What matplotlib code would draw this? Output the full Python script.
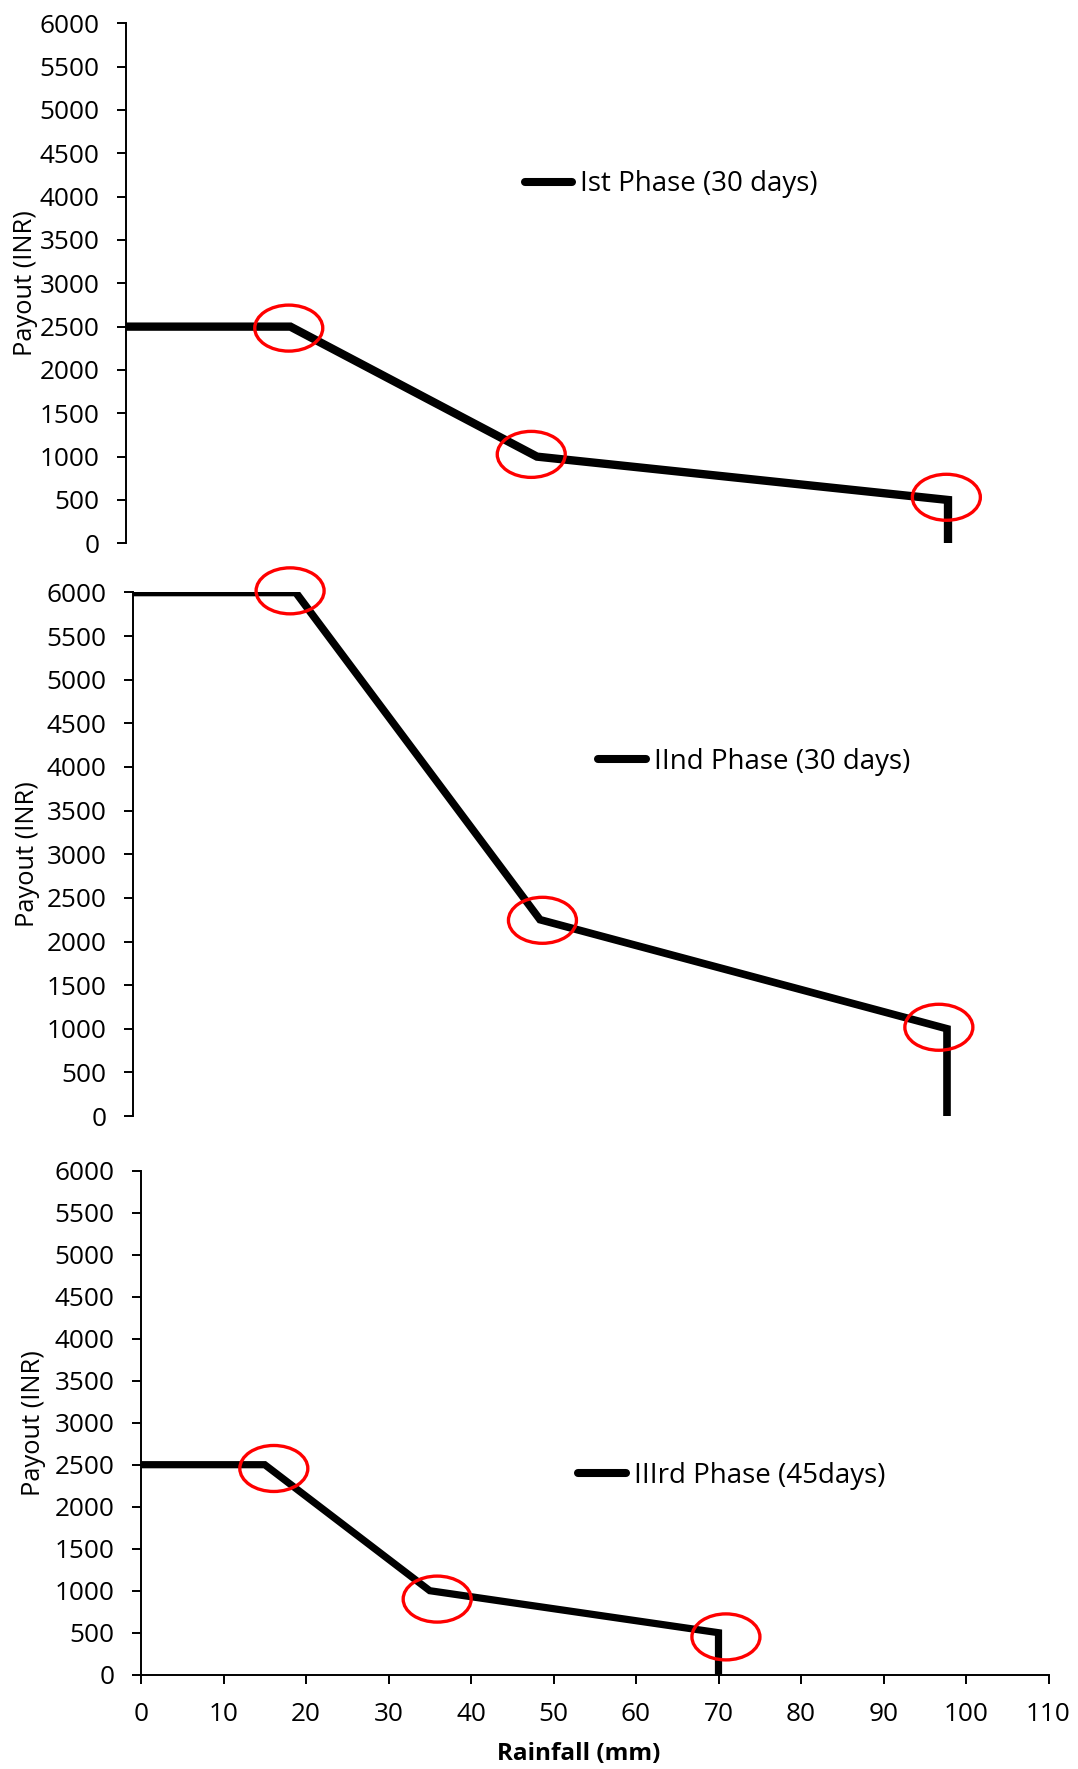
import matplotlib
matplotlib.use('Agg')
import matplotlib.pyplot as plt
from matplotlib.patches import Ellipse
from matplotlib.lines import Line2D
from matplotlib.transforms import ScaledTranslation

W, H, DPI = 1078, 1769, 100
plt.rcParams['font.family'] = ['Open Sans', 'DejaVu Sans']

# ---------------- data ----------------
phase1_rain = [0, 20, 50, 100, 100]
phase1_payout = [2500, 2500, 1000, 500, 0]
phase2_rain = [0, 20, 50, 100, 100]
phase2_payout = [6000, 6000, 2250, 1000, 0]
phase3_rain = [0, 15, 35, 70, 70]
phase3_payout = [2500, 2500, 1000, 500, 0]

phase_labels = ['Ist Phase (30 days)', 'IInd Phase (30 days)', 'IIIrd Phase (45days)']

# highlighted break points (red ellipses)
phase1_mark_x = [19.8, 49.3, 99.8]
phase1_mark_y = [2483, 1026, 531]
phase2_mark_x = [19.3, 50.3, 99.0]
phase2_mark_y = [6019, 2243, 1017]
phase3_mark_x = [16.1, 35.9, 70.9]
phase3_mark_y = [2455, 900, 450]

y_ticks = list(range(0, 6001, 500))
x_ticks = list(range(0, 111, 10))
y_label = 'Payout (INR)'
x_label = 'Rainfall (mm)'

# ---------------- layout (pixels) ----------------
panels = [
    dict(left=126, right=126 + 110 * 8.22, top=23.3, bottom=543.3,
         rain=phase1_rain, pay=phase1_payout, mx=phase1_mark_x, my=phase1_mark_y,
         lw=6.0, leg=(524.5, 184.5), ylab_x=26, xaxis=False),
    dict(left=133, right=133 + 110 * 8.14, top=592.5, bottom=1116,
         rain=phase2_rain, pay=phase2_payout, mx=phase2_mark_x, my=phase2_mark_y,
         lw=5.5, leg=(598, 762), ylab_x=28, xaxis=False),
    dict(left=141, right=1048.5, top=1170.7, bottom=1674.7,
         rain=phase3_rain, pay=phase3_payout, mx=phase3_mark_x, my=phase3_mark_y,
         lw=5.2, leg=(578, 1475.5), ylab_x=33.5, xaxis=True),
]

fig = plt.figure(figsize=(W / DPI, H / DPI), dpi=DPI)
fs_tick = 18.8
fs_leg = 20
fs_ylab = 18.3
fs_xlab = 17.5

for i, p in enumerate(panels):
    rect = [p['left'] / W, 1 - p['bottom'] / H,
            (p['right'] - p['left']) / W, (p['bottom'] - p['top']) / H]
    ax = fig.add_axes(rect)
    ax.set_xlim(0, 110)
    ax.set_ylim(0, 6000)
    ax.plot(p['rain'], p['pay'], color='black', lw=p['lw'],
            solid_capstyle='butt', solid_joinstyle='miter')
    for s in ['top', 'right']:
        ax.spines[s].set_visible(False)
    ax.spines['left'].set_linewidth(1.4)
    ax.set_yticks(y_ticks)
    ax.tick_params(axis='y', direction='out', length=6.5, width=1.4,
                   labelsize=fs_tick, pad=12.5)
    if p['xaxis']:
        ax.spines['bottom'].set_linewidth(1.4)
        ax.set_xticks(x_ticks)
        ax.tick_params(axis='x', direction='out', length=6.5, width=1.4,
                       labelsize=fs_tick, pad=13)
    else:
        ax.spines['bottom'].set_visible(False)
        ax.set_xticks([])

    for cx, cy in zip(p['mx'], p['my']):
        e = Ellipse((0, 0), width=68 / DPI, height=46 / DPI,
                    transform=fig.dpi_scale_trans + ScaledTranslation(cx, cy, ax.transData),
                    fill=False, edgecolor='#ff0000', lw=2.4, clip_on=False, zorder=5)
        ax.add_artist(e)

    handle = Line2D([], [], color='black', lw=5.8, solid_capstyle='round')
    lx, ly = p['leg']
    ax.legend([handle], [phase_labels[i]], loc='center left',
              bbox_to_anchor=(lx / W, 1 - ly / H), bbox_transform=fig.transFigure,
              frameon=False, handlelength=1.72, handletextpad=0.28,
              borderpad=0, borderaxespad=0, fontsize=fs_leg)

    fig.text(p['ylab_x'] / W, 1 - ((p['top'] + p['bottom']) / 2) / H, y_label,
             rotation=90, ha='center', va='center', fontsize=fs_ylab)

fig.text(579 / W, 1 - 1754 / H, x_label, ha='center', va='center',
         fontsize=fs_xlab, fontweight='bold')

fig.savefig('out.png', dpi=DPI)
